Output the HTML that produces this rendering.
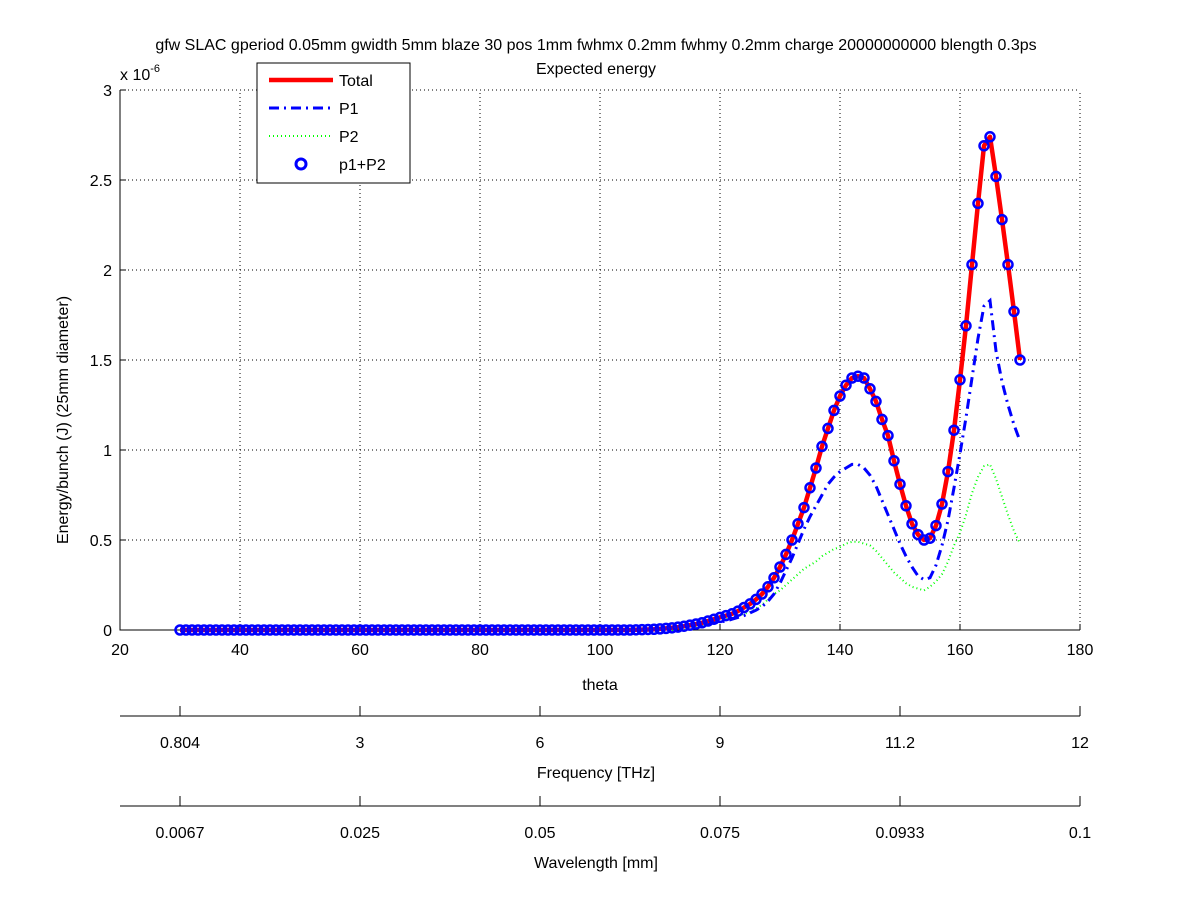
<!DOCTYPE html>
<html><head><meta charset="utf-8">
<style>
html,body{margin:0;padding:0;background:#fff;}
svg{display:block;font-family:"Liberation Sans",sans-serif;}
</style></head>
<body>
<svg id="chart" width="1200" height="901" viewBox="0 0 1200 901" xmlns="http://www.w3.org/2000/svg">
<rect x="0" y="0" width="1200" height="901" fill="#fff"/>
<text x="596" y="50" text-anchor="middle" font-size="16">gfw SLAC gperiod 0.05mm gwidth 5mm blaze 30 pos 1mm fwhmx 0.2mm fwhmy 0.2mm charge 20000000000 blength 0.3ps</text>
<text x="596" y="74" text-anchor="middle" font-size="16">Expected energy</text>
<g id="grid"></g>
<g id="axes"></g>
<g id="series"></g>
<g id="legend"></g>
</svg>
<script>
const thetaStart = 30;
const totalVals = [0,0,0,0,0,0,0,0,0,0, 0,0,0,0,0,0,0,0,0,0, 0,0,0,0,0,0,0,0,0,0, 0,0,0,0,0,0,0,0,0,0, 0,0,0,0,0,0,0,0,0,0, 0,0,0,0,0,0,0,0,0,0, 0,0,0,0,0,0,0,0,0,0, 0,0,0,0,0,0,
0.001,0.002,0.003,0.004,0.006,0.009,0.012,0.016,0.021,0.027,0.033,0.04,0.05,0.06,0.07,0.08,0.09,0.105,0.125,0.145,0.17,0.2,0.24,0.29,
0.35,0.42,0.50,0.59,0.68,0.79,0.90,1.02,1.12,1.22,1.30,1.36,1.40,1.41,1.40,1.34,1.27,1.17,1.08,0.94,0.81,0.69,0.59,0.53,0.50,0.51,0.58,0.70,0.88,1.11,1.39,1.69,2.03,2.37,2.69,2.74,2.52,2.28,2.03,1.77,1.50];
const p1Vals = [0,0,0,0,0,0,0,0,0,0, 0,0,0,0,0,0,0,0,0,0, 0,0,0,0,0,0,0,0,0,0, 0,0,0,0,0,0,0,0,0,0, 0,0,0,0,0,0,0,0,0,0, 0,0,0,0,0,0,0,0,0,0, 0,0,0,0,0,0,0,0,0,0, 0,0,0,0,0,0,
0.001,0.002,0.003,0.004,0.006,0.009,0.012,0.016,0.021,0.022,0.026,0.03,0.035,0.04,0.045,0.05,0.06,0.07,0.08,0.095,0.11,0.13,0.16,0.2,
0.26,0.33,0.40,0.48,0.56,0.63,0.69,0.75,0.81,0.85,0.88,0.90,0.92,0.92,0.90,0.86,0.80,0.72,0.64,0.56,0.48,0.41,0.35,0.30,0.28,0.29,0.36,0.47,0.61,0.79,0.98,1.18,1.40,1.62,1.80,1.83,1.55,1.38,1.25,1.14,1.05];
const p2Vals = [0,0,0,0,0,0,0,0,0,0, 0,0,0,0,0,0,0,0,0,0, 0,0,0,0,0,0,0,0,0,0, 0,0,0,0,0,0,0,0,0,0, 0,0,0,0,0,0,0,0,0,0, 0,0,0,0,0,0,0,0,0,0, 0,0,0,0,0,0,0,0,0,0, 0,0,0,0,0,0,
0,0,0,0,0,0,0,0,0,0.01,0.015,0.02,0.03,0.04,0.05,0.06,0.07,0.08,0.09,0.10,0.12,0.14,0.17,0.20,
0.22,0.25,0.28,0.31,0.34,0.36,0.38,0.41,0.43,0.45,0.46,0.48,0.49,0.49,0.48,0.47,0.44,0.40,0.36,0.32,0.29,0.26,0.24,0.23,0.22,0.24,0.27,0.31,0.38,0.47,0.54,0.64,0.76,0.85,0.91,0.92,0.84,0.74,0.64,0.55,0.48];
const xTicks = [20,40,60,80,100,120,140,160,180];
const yTicks = [0,0.5,1,1.5,2,2.5,3];
const yTickLabels = ["0","0.5","1","1.5","2","2.5","3"];
const freqTickLabels = ["0.804","3","6","9","11.2","12"];
const waveTickLabels = ["0.0067","0.025","0.05","0.075","0.0933","0.1"];
const secTickTheta = [30,60,90,120,150,180];

const NS="http://www.w3.org/2000/svg";
const X0=120,X1=1080,Y0=630,Y1=90;
function xs(v){return X0+(v-20)/(180-20)*(X1-X0);}
function ys(v){return Y0-(v/3)*(Y0-Y1);}
function mk(tag,attrs,parent){const e=document.createElementNS(NS,tag);for(const k in attrs)e.setAttribute(k,attrs[k]);parent.appendChild(e);return e;}
const grid=document.getElementById('grid'),axes=document.getElementById('axes'),series=document.getElementById('series'),legend=document.getElementById('legend');

xTicks.forEach((t,i)=>{
  const x=xs(t);
  if(i>0){const g=mk('line',{x1:x,y1:Y0,x2:x,y2:Y1,stroke:'#000','stroke-width':1,'stroke-dasharray':'1,3'},grid);
  
  }
  const tk=mk('line',{x1:x,y1:Y0,x2:x,y2:Y0-6,stroke:'#000'},axes);
  
  
  const tl=mk('text',{x:x,y:Y0+25,'text-anchor':'middle','font-size':16},axes);
  tl.textContent=t;
  
  
});
yTicks.forEach((t,i)=>{
  const y=ys(t);
  if(i>0){const g=mk('line',{x1:X0,y1:y,x2:X1,y2:y,stroke:'#000','stroke-width':1,'stroke-dasharray':'1,3'},grid);
  
  }
  const tk=mk('line',{x1:X0,y1:y,x2:X0+6,y2:y,stroke:'#000'},axes);
  
  
  const tl=mk('text',{x:X0-8,y:y+6,'text-anchor':'end','font-size':16},axes);
  tl.textContent=yTickLabels[i];
  
  
});
const ax=mk('path',{d:`M${X0},${Y1}V${Y0}H${X1}`,fill:'none',stroke:'#000','stroke-width':1},axes);


const exp=mk('text',{x:120,y:80,'font-size':16},axes);
exp.innerHTML='x 10<tspan dy="-8" font-size="11">-6</tspan>';


const yt=mk('text',{x:0,y:0,'text-anchor':'middle','font-size':16,transform:'translate(68,420) rotate(-90)'},axes);
yt.textContent='Energy/bunch (J) (25mm diameter)';


const xt=mk('text',{x:600,y:690,'text-anchor':'middle','font-size':16},axes);
xt.textContent='theta';



function secAxis(yLine,labels,title,name){
  const l=mk('line',{x1:X0,y1:yLine,x2:X1,y2:yLine,stroke:'#000'},axes);
  
  
  labels.forEach((lab,i)=>{
    const x=xs(secTickTheta[i]);
    const t=mk('line',{x1:x,y1:yLine,x2:x,y2:yLine-10,stroke:'#000'},axes);
    
    
    const tx=mk('text',{x:x,y:yLine+32,'text-anchor':'middle','font-size':16},axes);
    tx.textContent=lab;
    
    
  });
  const tt=mk('text',{x:596,y:yLine+62,'text-anchor':'middle','font-size':16},axes);
  tt.textContent=title;
  
  
}
secAxis(716,freqTickLabels,'Frequency [THz]','frequency');
secAxis(806,waveTickLabels,'Wavelength [mm]','wavelength');

function pathFrom(arr){return arr.map((v,i)=>(i?'L':'M')+xs(thetaStart+i).toFixed(1)+','+ys(v).toFixed(1)).join('');}
const p2=mk('path',{d:pathFrom(p2Vals),fill:'none',stroke:'#00ff00','stroke-width':2,'stroke-dasharray':'1,3'},series);


const p1=mk('path',{d:pathFrom(p1Vals),fill:'none',stroke:'#0000ff','stroke-width':3,'stroke-dasharray':'10,5,2,5'},series);


const tot=mk('path',{d:pathFrom(totalVals),fill:'none',stroke:'#ff0000','stroke-width':4.5,'stroke-linejoin':'round'},series);


totalVals.forEach((v,i)=>{
  const c=mk('circle',{cx:xs(thetaStart+i),cy:ys(v),r:4.5,fill:'none',stroke:'#0000ff','stroke-width':2.5},series);
  
  
});

const lb=mk('rect',{x:257,y:63,width:153,height:120,fill:'#fff',stroke:'#000'},legend);


const entries=[['Total',{stroke:'#ff0000','stroke-width':4.5}],['P1',{stroke:'#0000ff','stroke-width':3,'stroke-dasharray':'10,5,2,5'}],['P2',{stroke:'#00ff00','stroke-width':2,'stroke-dasharray':'1,3'}],['p1+P2',null]];
entries.forEach((e,i)=>{
  const y=80+i*28;
  if(e[1]){const a=Object.assign({x1:269,y1:y,x2:333,y2:y},e[1]);const l=mk('line',a,legend);
  
  }
  else{const c=mk('circle',{cx:301,cy:y,r:5,fill:'none',stroke:'#0000ff','stroke-width':3},legend);
  
  }
  const t=mk('text',{x:339,y:y+6,'font-size':16},legend);
  t.textContent=e[0];
  
  
});
</script>
</body></html>
